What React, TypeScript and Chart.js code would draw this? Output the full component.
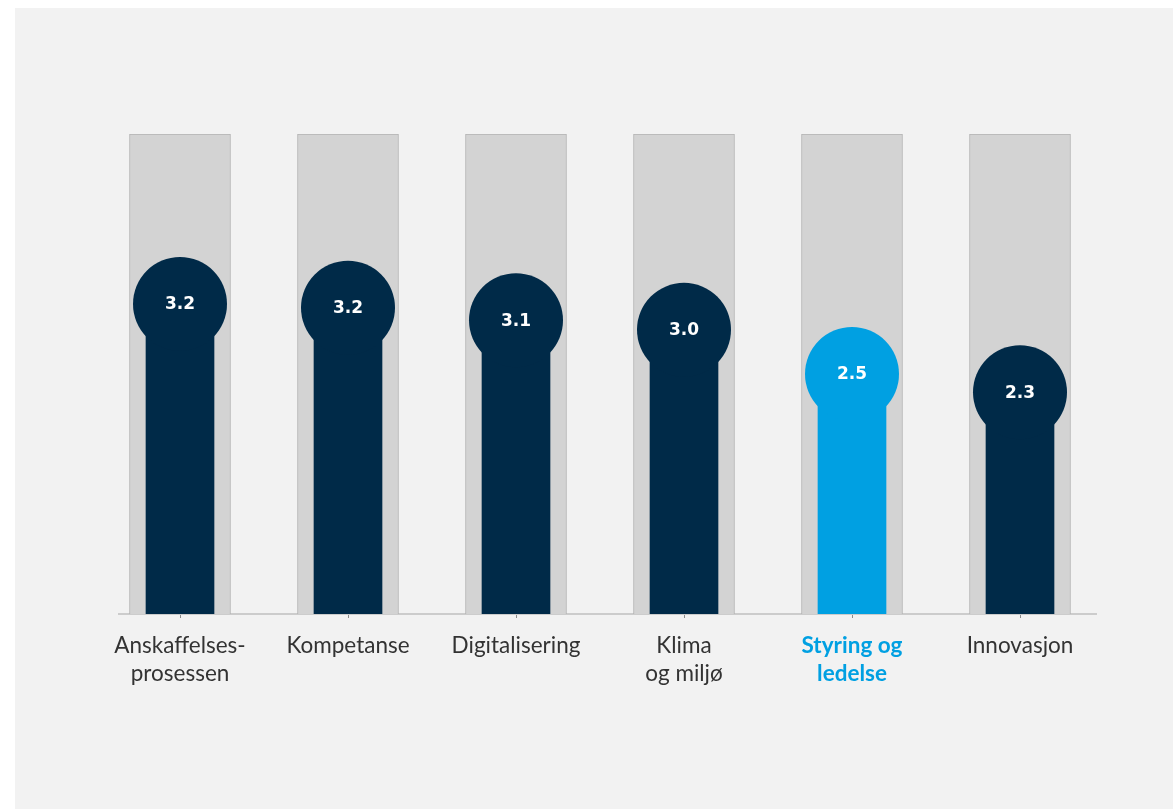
import React, { useEffect, useRef } from "react";
import { Chart, registerables } from "chart.js";

Chart.register(...registerables);

const categories: (string | string[])[] = [
  ["Anskaffelses-", "prosessen"],
  "Kompetanse",
  "Digitalisering",
  ["Klima", "og miljø"],
  ["Styring og", "ledelse"],
  "Innovasjon",
];
const scores = [3.23, 3.19, 3.06, 2.96, 2.5, 2.31];
const maxScore = 5;
const highlightIndex = 4;

const NAVY = "#002a48";
const BLUE = "#00a0e2";
const GREY_BAR = "#d3d3d3";
const GREY_BORDER = "#b3b3b3";
const BG = "#f2f2f2";
const LABEL = "#333333";

const colorFor = (i: number) => (i === highlightIndex ? BLUE : NAVY);

const overlayPlugin = {
  id: "overlay",
  beforeDatasetsDraw(chart: any) {
    const { ctx, chartArea } = chart;
    ctx.save();
    ctx.fillStyle = "#cccccc";
    ctx.fillRect(chartArea.left + 22, chartArea.bottom - 1, chartArea.right - chartArea.left - 29, 2);
    ctx.restore();
  },
  afterDatasetsDraw(chart: any) {
    const { ctx } = chart;
    const meta = chart.getDatasetMeta(2);
    ctx.save();
    ctx.fillStyle = "#ffffff";
    ctx.font = "bold 17px 'DejaVu Sans'";
    ctx.textAlign = "center";
    ctx.textBaseline = "middle";
    meta.data.forEach((pt: any, i: number) => {
      ctx.fillText(scores[i].toFixed(1), pt.x, pt.y + 1);
    });
    ctx.restore();
  },
};

export default function App() {
  const ref = useRef<HTMLCanvasElement | null>(null);
  useEffect(() => {
    if (!ref.current) return;
    const chart = new Chart(ref.current, {
      type: "bar",
      data: {
        labels: categories as any,
        datasets: [
          {
            type: "bar",
            data: categories.map(() => maxScore),
            backgroundColor: GREY_BAR,
            borderColor: GREY_BORDER,
            borderWidth: 1,
            borderSkipped: "bottom",
            barThickness: 101,
            grouped: false,
            order: 3,
          } as any,
          {
            type: "bar",
            data: scores,
            backgroundColor: scores.map((_, i) => colorFor(i)),
            borderWidth: 0,
            barThickness: 68,
            grouped: false,
            order: 2,
          } as any,
          {
            type: "line",
            data: scores,
            showLine: false,
            pointRadius: 47,
            pointHoverRadius: 47,
            pointBorderWidth: 0,
            pointBackgroundColor: scores.map((_, i) => colorFor(i)),
            pointBorderColor: scores.map((_, i) => colorFor(i)),
            order: 1,
            clip: false,
          } as any,
        ],
      },
      options: {
        animation: false,
        responsive: true,
        maintainAspectRatio: false,
        events: [],
        layout: { padding: { left: 81, right: 69, top: 126, bottom: 0 } },
        plugins: { legend: { display: false }, tooltip: { enabled: false } },
        scales: {
          y: { display: false, min: 0, max: maxScore },
          x: {
            offset: true,
            border: { display: false },
            grid: {
              display: true,
              offset: false,
              drawOnChartArea: false,
              drawTicks: true,
              tickLength: 4,
              color: "#8a8a8a",
              lineWidth: 1,
            },
            ticks: {
              padding: 13,
              maxRotation: 0,
              autoSkip: false,
              color: (c: any) => (c.index === highlightIndex ? BLUE : LABEL),
              font: (c: any) => ({
                family: "Lato",
                size: 22.5,
                weight: c.index === highlightIndex ? "bold" : "normal",
                lineHeight: 1.28,
              }),
            },
            afterFit: (scale: any) => {
              scale.height = 195;
            },
          } as any,
        },
      },
      plugins: [overlayPlugin],
    });
    return () => chart.destroy();
  }, []);

  return (
    <div
      style={{
        position: "fixed",
        left: 15,
        top: 8,
        right: 0,
        bottom: 0,
        background: BG,
      }}
    >
      <canvas ref={ref} />
    </div>
  );
}
